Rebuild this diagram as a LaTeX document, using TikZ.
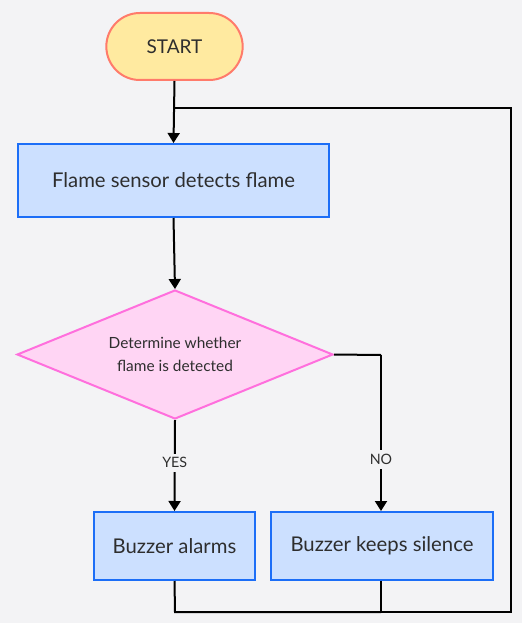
\documentclass[tikz,border=0pt]{standalone}
\usepackage{fontspec}
\setmainfont{Lato}
\usetikzlibrary{shapes.geometric,shapes.misc,arrows.meta}
\definecolor{bg}{HTML}{F3F3F5}
\definecolor{startfill}{HTML}{FFEAA0}
\definecolor{startdraw}{HTML}{FF7B6B}
\definecolor{boxfill}{HTML}{CCE0FF}
\definecolor{boxdraw}{HTML}{1C6EF7}
\definecolor{dfill}{HTML}{FFD5F4}
\definecolor{ddraw}{HTML}{FF6FDD}
\definecolor{txt}{HTML}{2E2E2E}
\tikzset{
  startbox/.style={rounded rectangle, draw=startdraw, fill=startfill, line width=2pt, minimum width=143pt, minimum height=67pt, text=txt, font=\fontsize{19}{22}\selectfont},
  procbox/.style={rectangle, draw=boxdraw, fill=boxfill, line width=2pt, minimum height=73pt, text=txt, font=\fontsize{20.3}{23}\selectfont, inner sep=0pt},
  decbox/.style={diamond, draw=ddraw, fill=dfill, line width=2pt, minimum width=316pt, minimum height=129pt, aspect=2.45, inner sep=0pt, text=txt, align=center, font=\fontsize{15.4}{23}\selectfont},
  conn/.style={line width=2pt, draw=black},
  arr/.style={conn, -{Triangle[length=10pt,width=12pt]}},
  lbl/.style={fill=bg, text=txt, font=\fontsize{14.3}{16}\selectfont, inner sep=4pt},
}
\begin{document}
\begin{tikzpicture}[x=1pt,y=-1pt]
\useasboundingbox[fill=bg] (0,0) rectangle (522,623);
\node[startbox] (start) at (174.5,46.5) {START};
\node[procbox, minimum width=311pt] (sense) at (173.5,180.5) {Flame sensor detects flame};
\node[decbox] (dec) at (175,354.5) {Determine whether\\flame is detected};
\node[procbox, minimum width=161pt, minimum height=68pt] (alarm) at (174.5,546) {Buzzer alarms};
\node[procbox, minimum width=222pt, minimum height=68pt] (silent) at (382,546) {Buzzer keeps silence};
\coordinate (join) at (175,108);
\coordinate (nob) at (381,355);
\coordinate (lb) at (175,612);
\coordinate (rb) at (381,612);
\coordinate (far) at (511,612);
\coordinate (fartop) at (511,108);
\draw[arr] (start.south) -- (sense.north);
\draw[arr] (sense.south) -- (dec.north);
\draw[arr] (dec.south) -- node[lbl, pos=0.47] {YES} (alarm.north);
\draw[conn] (dec.east) -- (nob);
\draw[arr] (nob) -- node[lbl, pos=0.67] {NO} (silent.north -| nob);
\draw[conn] (alarm.south) -- (lb) -- (rb);
\draw[conn] (silent.south -| rb) -- (rb) -- (far) -- (fartop) -- (join);
\end{tikzpicture}
\end{document}
